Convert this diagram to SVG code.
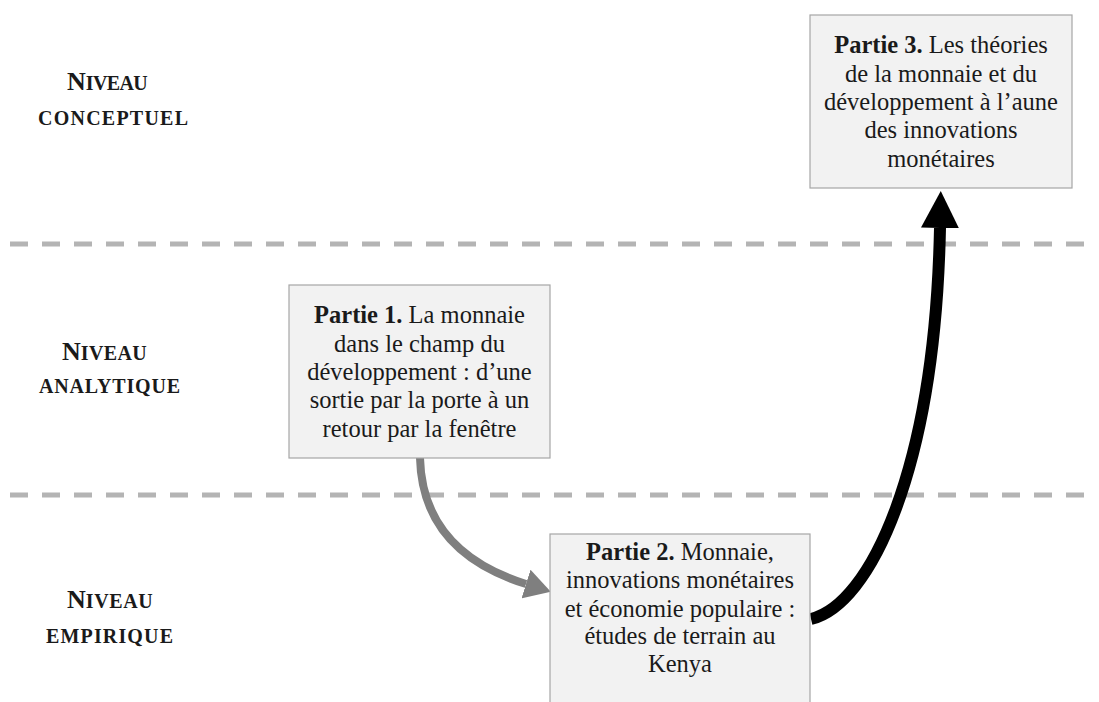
<svg xmlns="http://www.w3.org/2000/svg" width="1099" height="702" viewBox="0 0 1099 702">
<style>
.bg{fill:#ffffff}
.sep{stroke:#b4b4b4;stroke-width:5;stroke-dasharray:18 14;fill:none}
.box{fill:#f2f2f2;stroke:#a6a6a6;stroke-width:1.2}
.t{font-family:"Liberation Serif","Times New Roman",serif;font-size:24.5px;fill:#1a1a1a;text-anchor:middle}
.b{font-weight:bold}
.lvl{font-family:"Liberation Serif","Times New Roman",serif;font-weight:bold;fill:#1a1a1a}
.big{font-size:26px}
.sc{font-size:20px}
.grey{stroke:#7f7f7f;stroke-width:8;fill:none}
.black{stroke:#000000;stroke-width:12;fill:none}
</style>
<defs>
<marker id="headBlack" viewBox="0 0 37 38" refX="0" refY="19" markerWidth="37" markerHeight="38" markerUnits="userSpaceOnUse" orient="auto">
<path d="M0,0 L37,19 L0,38 z" fill="#000000"/>
</marker>
<marker id="headGrey" viewBox="0 0 26 30" refX="0" refY="15" markerWidth="26" markerHeight="30" markerUnits="userSpaceOnUse" orient="auto">
<path d="M0,0 L26,15 L0,30 z" fill="#7f7f7f"/>
</marker>
</defs>
<rect class="bg" x="0" y="0" width="1099" height="702"/>

<g id="separators">
<line class="sep" x1="10" y1="244" x2="1090" y2="244"/>
<line class="sep" x1="10" y1="495" x2="1090" y2="495"/>
</g>

<g id="level-conceptuel">
<text class="lvl" x="67" y="90"><tspan class="big">N</tspan><tspan class="sc" textLength="62" lengthAdjust="spacing">IVEAU</tspan></text>
<text class="lvl sc" x="38" y="125" textLength="150" lengthAdjust="spacing">CONCEPTUEL</text>
</g>
<g id="level-analytique">
<text class="lvl" x="62" y="360"><tspan class="big">N</tspan><tspan class="sc" textLength="66" lengthAdjust="spacing">IVEAU</tspan></text>
<text class="lvl sc" x="39" y="393" textLength="141" lengthAdjust="spacing">ANALYTIQUE</text>
</g>
<g id="level-empirique">
<text class="lvl" x="67" y="608"><tspan class="big">N</tspan><tspan class="sc" textLength="67" lengthAdjust="spacing">IVEAU</tspan></text>
<text class="lvl sc" x="46" y="643" textLength="127" lengthAdjust="spacing">EMPIRIQUE</text>
</g>

<g id="connectors">
<path class="grey" d="M420,458 C422,535 475,568 526,584" marker-end="url(#headGrey)"/>
<path class="black" d="M811,619 C870,605 935,470 940,228" marker-end="url(#headBlack)"/>
</g>

<g id="partie3">
<rect class="box" x="810" y="15" width="262" height="173"/>
<text class="t" x="941" y="53"><tspan class="b">Partie 3.</tspan> Les théories</text>
<text class="t" x="941" y="82">de la monnaie et du</text>
<text class="t" x="941" y="110">développement à l’aune</text>
<text class="t" x="941" y="138">des innovations</text>
<text class="t" x="941" y="167">monétaires</text>
</g>

<g id="partie1">
<rect class="box" x="289" y="285" width="261" height="173"/>
<text class="t" x="419.5" y="323"><tspan class="b">Partie 1.</tspan> La monnaie</text>
<text class="t" x="419.5" y="352">dans le champ du</text>
<text class="t" x="419.5" y="380">développement : d’une</text>
<text class="t" x="419.5" y="408">sortie par la porte à un</text>
<text class="t" x="419.5" y="437">retour par la fenêtre</text>
</g>

<g id="partie2">
<rect class="box" x="550" y="534" width="260" height="180"/>
<text class="t" x="680" y="560"><tspan class="b">Partie 2.</tspan> Monnaie,</text>
<text class="t" x="680" y="588">innovations monétaires</text>
<text class="t" x="680" y="617">et économie populaire :</text>
<text class="t" x="680" y="644">études de terrain au</text>
<text class="t" x="680" y="672">Kenya</text>
</g>
</svg>
